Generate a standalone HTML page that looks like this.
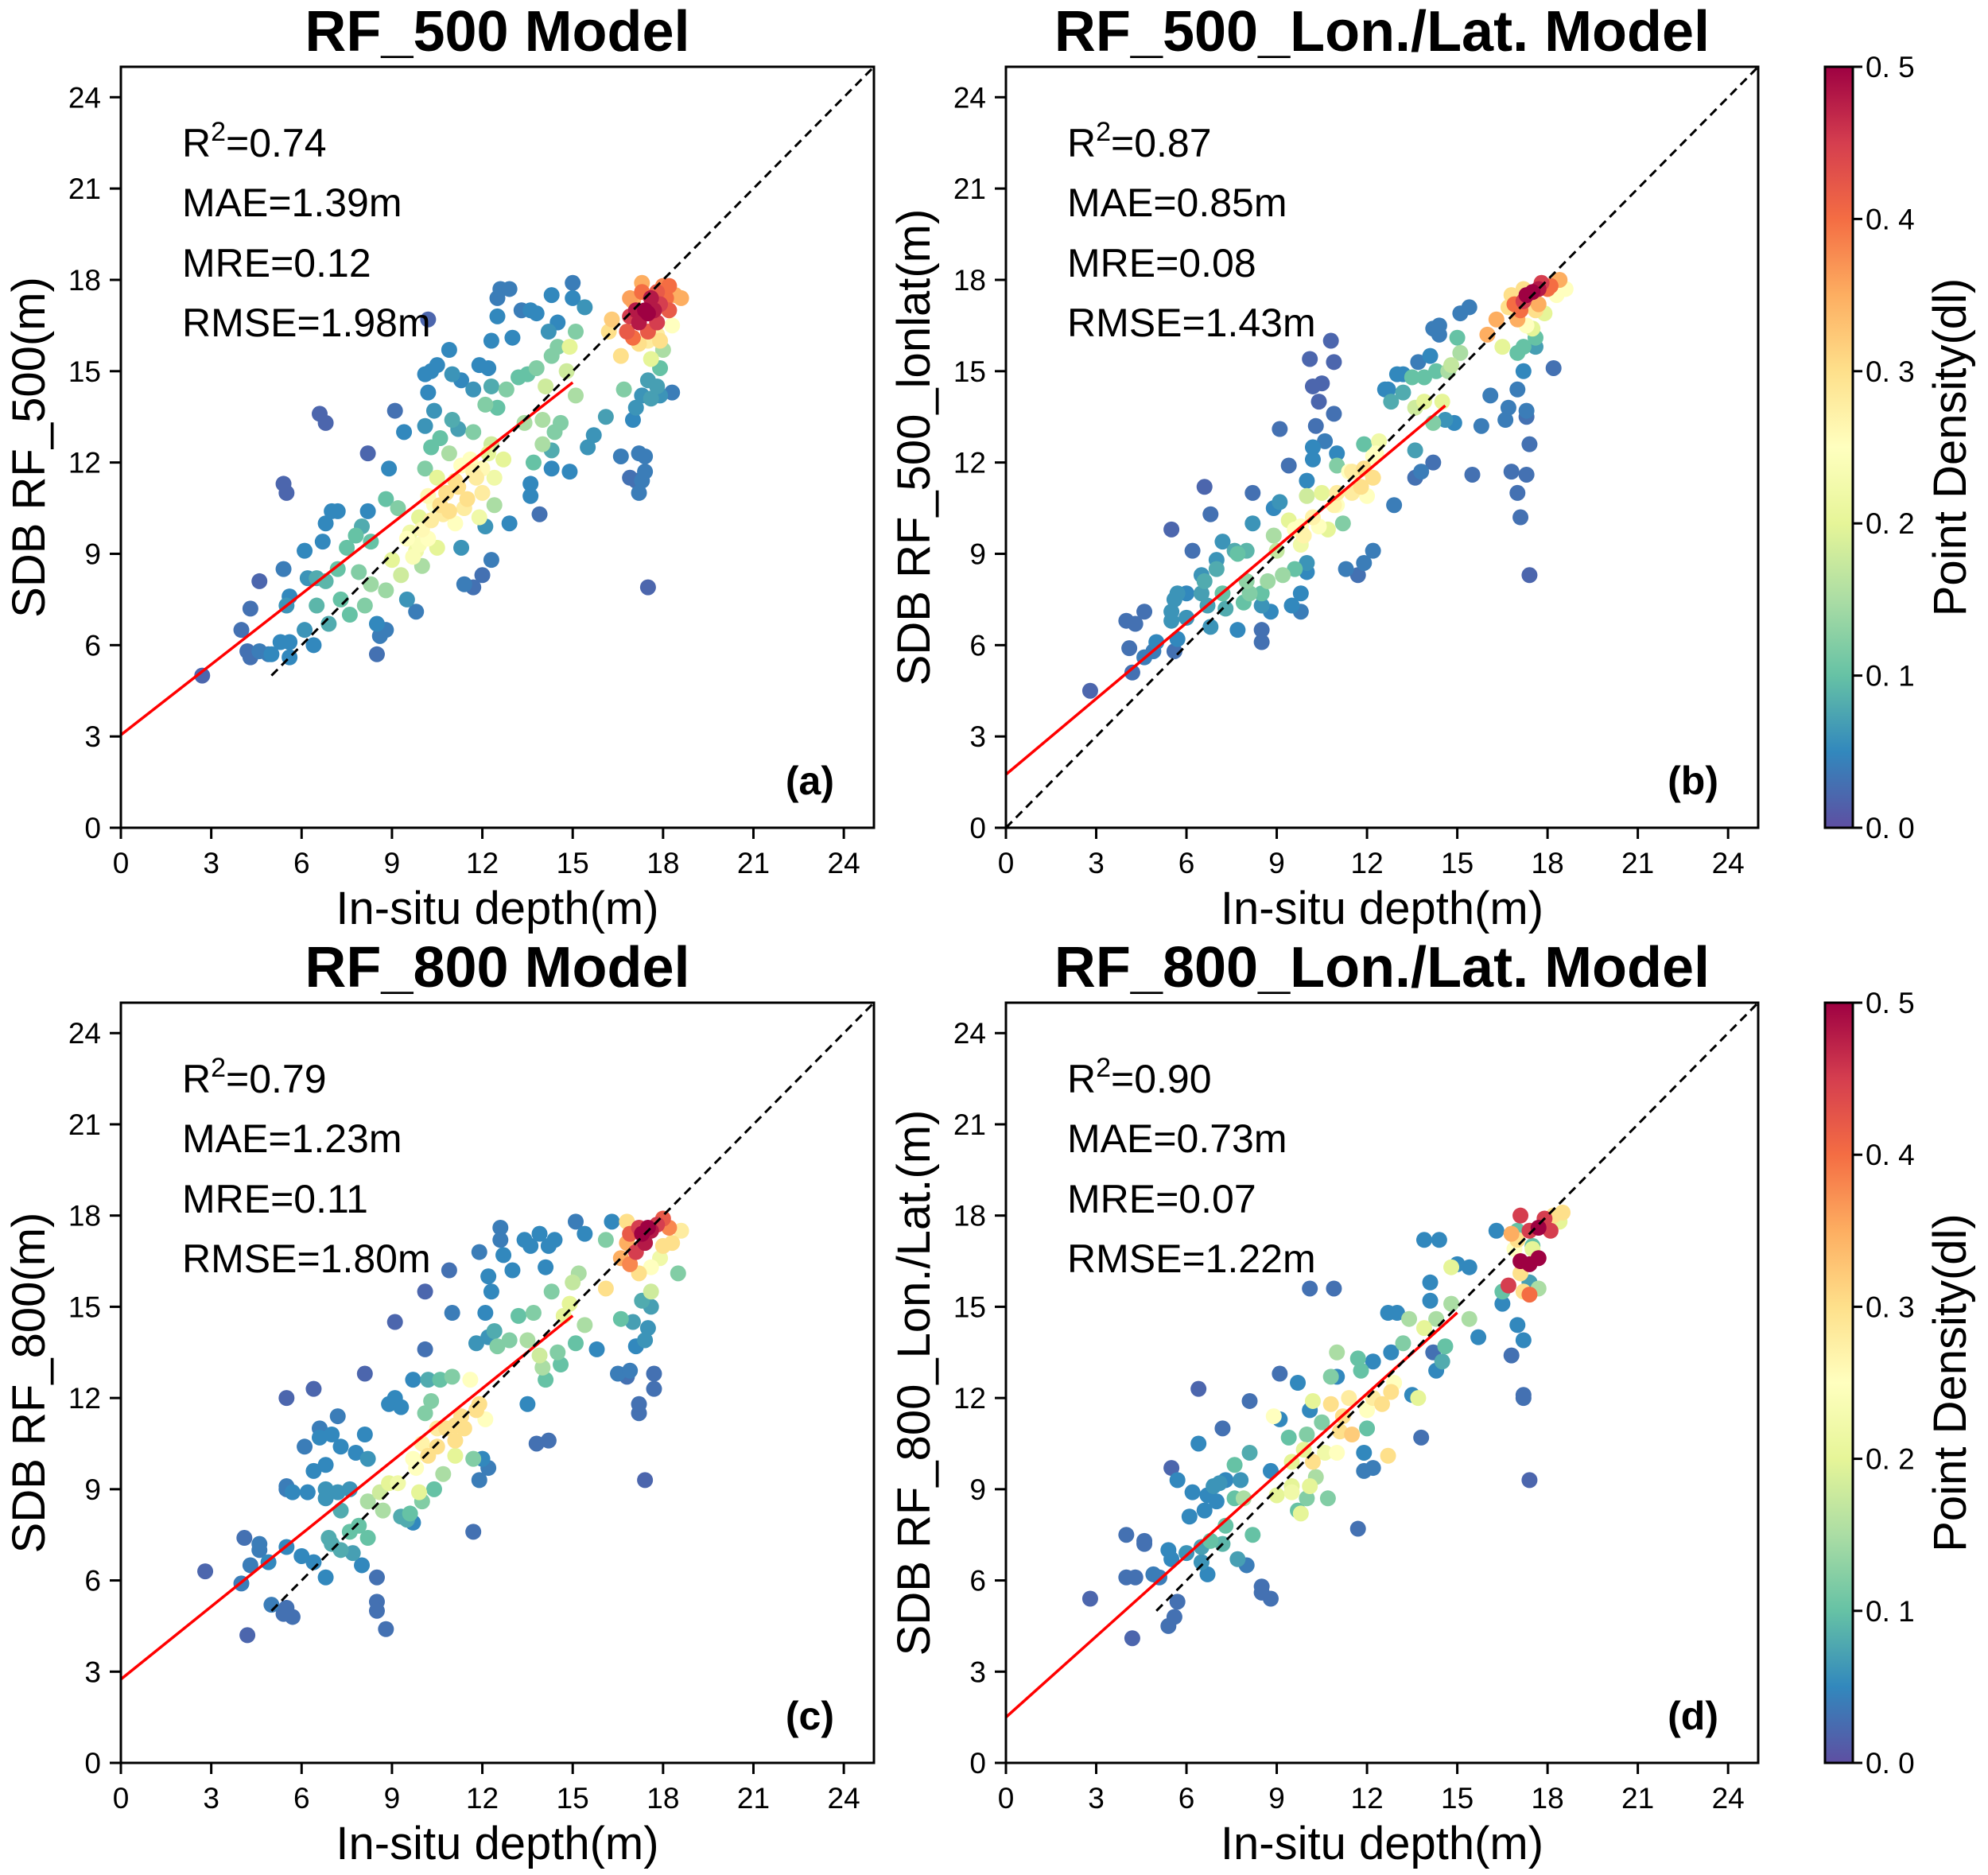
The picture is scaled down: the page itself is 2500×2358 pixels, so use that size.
<!DOCTYPE html>
<html><head><meta charset="utf-8">
<style>
html,body{margin:0;padding:0;background:#fff;}
svg{display:block;font-family:"Liberation Sans",sans-serif;}
</style></head>
<body>
<svg id="fig" width="2500" height="2358" viewBox="0 0 2500 2358" xmlns="http://www.w3.org/2000/svg">
<defs>
<linearGradient id="spec" x1="0" y1="1" x2="0" y2="0">
<stop offset="0" stop-color="#5e4fa2"/><stop offset="0.1" stop-color="#3288bd"/><stop offset="0.2" stop-color="#66c2a5"/><stop offset="0.3" stop-color="#abdda4"/><stop offset="0.4" stop-color="#e6f598"/><stop offset="0.5" stop-color="#ffffbf"/><stop offset="0.6" stop-color="#fee08b"/><stop offset="0.7" stop-color="#fdae61"/><stop offset="0.8" stop-color="#f46d43"/><stop offset="0.9" stop-color="#d53e4f"/><stop offset="1" stop-color="#9e0142"/>
</linearGradient>
</defs>
</svg>
<script>
const ticks=[0,3,6,9,12,15,18,21,24];
const cbTicks=[0.0,0.1,0.2,0.3,0.4,0.5];
const cbTickLabels=["0. 0","0. 1","0. 2","0. 3","0. 4","0. 5"];
const titles=["RF_500 Model","RF_500_Lon./Lat. Model","RF_800 Model","RF_800_Lon./Lat. Model"];
const yLabels=["SDB RF_500(m)","SDB RF_500_lonlat(m)","SDB RF_800(m)","SDB RF_800_Lon./Lat.(m)"];
const panelTags=["(a)","(b)","(c)","(d)"];
const r2Vals=["0.74","0.87","0.79","0.90"];
const maeVals=["1.39m","0.85m","1.23m","0.73m"];
const mreVals=["0.12","0.08","0.11","0.07"];
const rmseVals=["1.98m","1.43m","1.80m","1.22m"];
const fitIntercept=[3.05,1.75,2.75,1.5];
const fitSlope=[0.772,0.83,0.797,0.887];
const fitEnd=[15,14.6,15,15];
const diagStart=[5,0,5,5];

const pointsA=[[2.7,5.0,0.02],[4.0,6.5,0.03],[4.2,5.8,0.03],[4.3,5.6,0.03],[4.3,7.2,0.03],[4.6,8.1,0.02],[4.6,5.8,0.04],[4.9,5.7,0.04],[5.0,5.7,0.05],[5.4,8.5,0.04],[5.4,11.3,0.02],[5.5,11.0,0.02],[5.5,7.3,0.06],[5.6,7.6,0.05],[5.3,6.1,0.05],[5.6,6.1,0.05],[5.6,5.6,0.05],[6.1,6.5,0.06],[6.1,9.1,0.05],[6.2,8.2,0.06],[6.4,6.0,0.05],[6.5,8.2,0.08],[6.5,7.3,0.09],[6.6,13.6,0.02],[6.7,9.4,0.05],[6.8,13.3,0.02],[6.8,10.0,0.05],[6.8,8.1,0.09],[6.9,6.7,0.08],[7.0,10.4,0.05],[7.2,10.4,0.05],[7.2,8.5,0.1],[7.3,7.5,0.1],[7.5,9.2,0.1],[7.6,7.0,0.1],[7.8,9.6,0.1],[7.9,8.4,0.12],[8.0,9.9,0.08],[8.1,7.3,0.12],[8.2,12.3,0.02],[8.2,10.4,0.05],[8.3,9.4,0.1],[8.3,8.0,0.14],[8.5,6.7,0.05],[8.5,5.7,0.03],[8.6,6.3,0.04],[8.8,6.5,0.04],[8.8,7.8,0.14],[8.8,10.8,0.1],[8.9,11.8,0.05],[9.0,8.8,0.2],[9.1,13.7,0.03],[9.2,10.5,0.12],[9.3,8.3,0.18],[9.4,13.0,0.05],[9.5,7.5,0.06],[9.6,9.7,0.22],[9.8,7.1,0.04],[9.8,9.1,0.22],[9.9,10.2,0.2],[10.0,8.6,0.15],[10.1,13.2,0.06],[10.1,11.8,0.12],[10.1,14.9,0.05],[10.2,14.3,0.05],[10.2,16.7,0.02],[10.2,9.5,0.25],[10.3,15.0,0.05],[10.3,12.5,0.1],[10.4,10.6,0.25],[10.4,13.7,0.06],[10.5,15.2,0.05],[10.5,11.5,0.2],[10.5,9.2,0.2],[10.6,12.8,0.1],[10.7,10.3,0.28],[10.8,11.0,0.3],[10.9,15.7,0.05],[10.9,12.3,0.15],[11.0,13.4,0.08],[11.0,14.9,0.06],[11.1,10.0,0.25],[11.1,11.4,0.3],[11.2,13.1,0.07],[11.3,14.7,0.05],[11.3,9.2,0.06],[11.3,11.9,0.25],[11.4,8.0,0.04],[11.5,10.8,0.3],[11.6,12.1,0.25],[11.7,14.4,0.06],[11.7,13.0,0.12],[11.7,7.9,0.03],[11.8,11.5,0.28],[11.9,15.2,0.05],[11.9,10.2,0.22],[12.0,8.3,0.03],[12.0,11.0,0.28],[12.1,13.9,0.12],[12.1,9.9,0.06],[12.2,12.3,0.2],[12.2,15.1,0.05],[12.3,14.5,0.08],[12.3,8.8,0.04],[12.3,16.0,0.05],[12.3,12.6,0.18],[12.4,11.5,0.22],[12.4,10.6,0.15],[12.5,17.4,0.04],[12.5,16.8,0.05],[12.5,13.8,0.1],[12.6,17.7,0.04],[12.7,12.1,0.2],[12.8,14.4,0.12],[12.9,17.7,0.04],[12.9,10.0,0.05],[13.0,16.1,0.05],[13.2,14.8,0.1],[13.3,17.0,0.04],[13.4,13.3,0.15],[13.5,14.9,0.1],[13.6,17.0,0.05],[13.6,11.3,0.05],[13.6,10.9,0.05],[13.7,12.0,0.1],[13.8,16.9,0.05],[13.8,15.1,0.12],[13.9,10.3,0.03],[14.0,13.4,0.15],[14.0,12.6,0.15],[14.1,14.5,0.18],[14.2,16.3,0.06],[14.3,17.5,0.05],[14.3,15.5,0.12],[14.3,12.4,0.08],[14.3,11.8,0.05],[14.4,13.0,0.12],[14.5,16.6,0.05],[14.5,15.8,0.12],[14.6,13.3,0.12],[14.8,15.0,0.18],[14.9,15.8,0.2],[14.9,11.7,0.05],[15.0,17.4,0.05],[15.0,17.9,0.04],[15.1,14.2,0.15],[15.1,16.3,0.12],[15.4,17.1,0.06],[15.5,12.5,0.06],[15.7,12.9,0.06],[16.1,13.5,0.07],[16.2,16.3,0.3],[16.3,16.7,0.32],[16.6,15.5,0.3],[16.6,12.2,0.04],[16.7,14.4,0.12],[16.9,11.5,0.03],[17.0,13.4,0.05],[17.1,11.4,0.03],[17.1,13.8,0.06],[17.2,12.3,0.04],[17.2,11.0,0.04],[17.3,11.4,0.04],[17.3,14.2,0.06],[17.4,11.7,0.04],[17.4,12.2,0.04],[17.5,7.9,0.02],[17.5,14.7,0.07],[17.6,15.4,0.2],[17.6,14.1,0.07],[17.8,14.5,0.07],[17.9,14.2,0.06],[17.9,15.1,0.1],[18.0,15.7,0.15],[18.3,14.3,0.04],[18.3,16.5,0.25],[16.8,16.3,0.42],[16.9,16.8,0.45],[17.0,17.3,0.35],[17.0,16.1,0.4],[17.1,17.0,0.48],[17.2,16.6,0.48],[17.3,17.6,0.4],[17.4,17.0,0.5],[17.5,16.9,0.5],[17.5,16.3,0.42],[17.6,17.4,0.48],[17.7,17.0,0.48],[17.8,17.6,0.42],[17.8,16.6,0.45],[17.9,17.2,0.45],[18.0,17.8,0.38],[18.1,17.4,0.4],[18.2,17.0,0.42],[18.2,17.8,0.4],[18.4,17.5,0.35],[18.6,17.4,0.35],[17.2,15.9,0.3],[17.5,16.0,0.28],[17.8,16.2,0.28],[16.9,17.4,0.36],[17.3,17.9,0.35],[17.9,16.0,0.3],[9.5,9.5,0.25],[9.7,8.9,0.24],[10.0,9.8,0.26],[10.3,10.1,0.28],[10.6,10.6,0.3],[10.9,10.4,0.3],[11.2,11.2,0.3],[11.4,10.5,0.28],[11.7,11.7,0.27],[12.0,11.8,0.26],[10.2,10.9,0.26],[9.9,9.3,0.24]];

const pointsB=[[2.8,4.5,0.02],[4.0,6.8,0.03],[4.3,6.7,0.03],[4.6,7.1,0.03],[4.1,5.9,0.03],[4.2,5.1,0.03],[4.6,5.6,0.04],[4.9,5.8,0.04],[5.0,6.1,0.05],[5.5,9.8,0.02],[5.6,5.8,0.03],[5.7,6.2,0.05],[5.5,6.8,0.06],[5.5,7.1,0.06],[5.6,7.5,0.06],[5.7,7.7,0.06],[6.0,6.9,0.06],[6.0,7.7,0.05],[6.2,9.1,0.03],[6.5,8.3,0.06],[6.6,11.2,0.02],[6.5,7.7,0.07],[6.6,8.1,0.08],[6.7,7.3,0.07],[6.8,10.3,0.03],[6.8,6.6,0.06],[7.0,8.8,0.06],[7.0,8.5,0.08],[7.2,7.7,0.1],[7.2,9.4,0.06],[7.3,7.2,0.08],[7.6,9.1,0.08],[7.7,9.0,0.1],[7.7,6.5,0.05],[7.9,7.4,0.1],[8.0,9.1,0.09],[8.0,8.1,0.13],[8.1,7.7,0.12],[8.2,11.0,0.03],[8.2,10.0,0.06],[8.5,7.3,0.06],[8.5,7.7,0.1],[8.5,6.5,0.03],[8.5,6.1,0.03],[8.7,8.1,0.14],[8.8,7.1,0.05],[8.9,9.6,0.15],[8.9,10.5,0.05],[9.1,10.7,0.06],[9.1,13.1,0.03],[9.0,9.1,0.17],[9.2,8.3,0.14],[9.4,11.9,0.03],[9.5,7.3,0.05],[9.6,8.5,0.1],[9.8,9.3,0.22],[9.8,7.1,0.04],[9.8,7.7,0.05],[9.8,9.9,0.25],[10.0,8.4,0.05],[10.0,8.7,0.06],[10.0,11.4,0.05],[10.0,10.9,0.18],[10.1,15.4,0.02],[10.2,12.5,0.05],[10.2,12.1,0.05],[10.2,14.5,0.02],[10.3,13.2,0.03],[10.4,14.0,0.02],[10.5,11.0,0.2],[10.4,9.9,0.25],[10.5,14.6,0.02],[10.6,12.7,0.04],[10.7,9.8,0.2],[10.8,16.0,0.02],[10.9,15.3,0.02],[10.9,13.6,0.03],[11.0,11.9,0.12],[11.0,12.3,0.05],[11.0,10.6,0.25],[11.2,10.0,0.12],[11.3,8.5,0.04],[11.4,11.7,0.25],[11.5,11.0,0.28],[11.7,8.3,0.03],[11.8,11.2,0.3],[11.9,12.6,0.1],[11.9,8.7,0.04],[11.9,11.8,0.3],[12.0,10.9,0.25],[12.2,11.5,0.3],[12.2,9.1,0.04],[12.3,12.3,0.25],[12.4,12.7,0.22],[12.6,14.4,0.05],[12.7,14.4,0.05],[12.8,14.0,0.08],[12.9,10.6,0.04],[13.0,14.9,0.05],[13.2,14.9,0.05],[13.2,14.3,0.08],[13.5,14.8,0.1],[13.6,13.8,0.18],[13.6,11.5,0.03],[13.6,12.4,0.07],[13.7,15.3,0.04],[13.8,11.7,0.04],[13.9,14.8,0.1],[13.9,14.0,0.2],[14.1,15.5,0.05],[14.2,16.4,0.04],[14.2,12.0,0.03],[14.3,15.0,0.1],[14.2,13.3,0.12],[14.4,16.2,0.04],[14.4,16.5,0.04],[14.5,14.0,0.2],[14.6,13.4,0.06],[14.7,15.0,0.15],[14.8,15.2,0.17],[14.9,13.3,0.05],[15.0,16.1,0.1],[15.1,15.6,0.15],[15.1,16.9,0.04],[15.4,17.1,0.04],[15.5,11.6,0.03],[15.8,13.2,0.04],[16.0,16.2,0.35],[16.1,14.2,0.04],[16.3,16.7,0.35],[16.5,15.8,0.2],[16.6,13.4,0.04],[16.7,13.8,0.04],[16.8,11.7,0.03],[17.0,11.0,0.03],[17.0,14.4,0.04],[17.0,15.6,0.1],[17.1,10.2,0.03],[17.2,15.0,0.05],[17.2,15.8,0.1],[17.3,13.7,0.04],[17.3,11.6,0.03],[17.3,13.5,0.03],[17.4,12.6,0.03],[17.4,8.3,0.02],[17.6,15.8,0.07],[17.6,16.1,0.1],[18.2,15.1,0.03],[17.9,16.9,0.2],[17.3,16.5,0.25],[17.5,16.4,0.2],[16.8,17.5,0.3],[16.9,17.2,0.4],[17.1,17.0,0.4],[17.2,17.3,0.45],[17.3,17.5,0.5],[17.5,17.6,0.5],[17.7,17.7,0.48],[17.8,17.9,0.45],[18.0,17.7,0.4],[18.1,17.8,0.4],[18.4,18.0,0.35],[18.6,17.7,0.25],[18.3,17.5,0.25],[17.2,17.7,0.3],[17.0,16.7,0.35],[16.7,17.1,0.3],[17.6,17.0,0.3],[17.7,17.2,0.35],[9.6,9.8,0.25],[9.9,9.6,0.27],[10.2,10.2,0.27],[11.0,11.0,0.28],[11.5,11.7,0.28],[12.2,12.2,0.25],[10.9,10.6,0.27],[9.4,10.1,0.2]];

const pointsC=[[2.8,6.3,0.02],[4.1,7.4,0.03],[4.3,6.5,0.04],[4.2,4.2,0.02],[4.0,5.9,0.04],[4.6,7.2,0.04],[4.6,7.0,0.04],[4.9,6.6,0.05],[5.0,5.2,0.04],[5.5,12.0,0.02],[5.5,7.1,0.05],[5.5,5.1,0.03],[5.4,4.9,0.03],[5.7,4.8,0.03],[5.5,9.1,0.04],[5.5,9.0,0.04],[5.7,8.9,0.05],[6.0,6.8,0.05],[6.1,10.4,0.04],[6.2,8.9,0.05],[6.4,9.6,0.05],[6.4,6.6,0.05],[6.4,12.3,0.02],[6.6,11.0,0.04],[6.6,10.7,0.05],[6.8,9.0,0.06],[6.8,8.7,0.06],[6.8,6.1,0.05],[6.8,9.8,0.05],[6.9,7.4,0.08],[7.0,10.8,0.05],[7.0,7.2,0.08],[7.2,11.4,0.04],[7.2,8.9,0.06],[7.3,7.0,0.08],[7.3,10.4,0.05],[7.3,8.3,0.08],[7.6,7.6,0.1],[7.6,9.0,0.06],[7.7,6.9,0.07],[7.8,10.2,0.05],[7.9,7.8,0.1],[8.0,6.5,0.05],[8.1,10.8,0.05],[8.1,12.8,0.02],[8.2,10.0,0.06],[8.2,7.4,0.1],[8.2,8.6,0.15],[8.5,6.1,0.03],[8.5,5.3,0.03],[8.5,5.0,0.03],[8.6,8.9,0.18],[8.7,8.3,0.15],[8.8,4.4,0.03],[8.9,11.8,0.05],[8.9,9.2,0.2],[9.1,12.0,0.05],[9.1,14.5,0.02],[9.2,9.2,0.22],[9.3,8.1,0.08],[9.3,11.7,0.05],[9.5,8.0,0.08],[9.6,8.2,0.1],[9.7,12.6,0.05],[9.7,7.9,0.05],[9.8,9.7,0.25],[9.9,8.9,0.2],[10.0,8.6,0.12],[10.1,11.5,0.12],[10.1,15.5,0.02],[10.1,13.6,0.03],[10.2,12.6,0.08],[10.2,10.1,0.3],[10.3,11.9,0.12],[10.4,9.0,0.1],[10.5,10.4,0.3],[10.6,12.6,0.1],[10.7,9.5,0.15],[10.8,11.0,0.3],[10.9,16.2,0.03],[11.0,12.7,0.12],[11.0,14.8,0.04],[11.1,10.1,0.2],[11.3,11.4,0.3],[11.4,11.0,0.3],[11.6,12.6,0.25],[11.7,10.0,0.12],[11.7,7.6,0.03],[11.8,13.8,0.06],[11.9,9.3,0.04],[11.9,16.8,0.04],[11.9,11.8,0.3],[12.0,10.0,0.05],[12.1,11.3,0.25],[12.1,14.8,0.05],[12.2,16.0,0.05],[12.2,9.7,0.04],[12.2,14.0,0.06],[12.3,15.5,0.05],[12.4,14.2,0.08],[12.5,13.7,0.12],[12.6,17.6,0.04],[12.6,17.2,0.04],[12.7,16.7,0.05],[12.9,13.9,0.12],[13.0,16.2,0.05],[13.2,14.7,0.1],[13.4,17.2,0.05],[13.5,11.8,0.05],[13.5,13.9,0.15],[13.6,17.0,0.05],[13.7,14.8,0.12],[13.8,10.5,0.03],[13.9,17.4,0.05],[13.9,13.4,0.18],[14.0,13.0,0.15],[14.1,12.6,0.1],[14.1,16.3,0.05],[14.2,10.6,0.03],[14.2,17.0,0.05],[14.3,15.5,0.12],[14.4,17.2,0.05],[14.5,13.5,0.12],[14.6,13.1,0.1],[14.7,14.7,0.2],[14.9,15.1,0.2],[15.0,15.8,0.17],[15.1,17.8,0.04],[15.1,13.8,0.1],[15.2,16.1,0.15],[15.4,17.4,0.05],[15.4,14.4,0.15],[15.8,13.6,0.05],[16.1,17.2,0.12],[16.1,15.6,0.3],[16.3,17.8,0.05],[16.5,12.8,0.04],[16.6,14.6,0.1],[16.8,12.7,0.03],[16.9,12.9,0.04],[17.0,14.5,0.07],[17.1,13.7,0.05],[17.2,11.5,0.03],[17.2,11.8,0.03],[17.3,15.2,0.08],[17.4,9.3,0.02],[17.4,13.9,0.06],[17.5,14.3,0.06],[17.6,15.5,0.18],[17.6,15.0,0.07],[17.7,12.8,0.03],[17.7,12.3,0.03],[18.5,16.1,0.12],[16.8,17.1,0.35],[16.9,17.4,0.42],[17.2,17.6,0.45],[17.3,17.4,0.5],[17.5,17.6,0.5],[17.6,17.5,0.48],[17.8,17.7,0.45],[18.0,17.9,0.42],[18.2,17.6,0.38],[18.3,17.1,0.3],[18.6,17.5,0.28],[17.4,17.1,0.48],[17.1,16.8,0.45],[16.9,16.4,0.38],[17.2,16.1,0.3],[17.6,16.3,0.25],[17.9,16.6,0.22],[18.0,17.0,0.3],[16.6,16.6,0.35],[16.8,17.8,0.3],[10.5,11.0,0.28],[11.1,11.1,0.3],[11.8,11.6,0.3],[11.1,10.6,0.3],[10.0,10.5,0.27],[9.7,10.0,0.25]];

const pointsD=[[2.8,5.4,0.02],[4.0,7.5,0.03],[4.6,7.3,0.03],[4.6,7.2,0.03],[4.0,6.1,0.03],[4.3,6.1,0.03],[4.2,4.1,0.02],[4.9,6.2,0.04],[5.1,6.1,0.04],[5.5,9.7,0.02],[5.4,7.0,0.05],[5.5,6.7,0.05],[5.4,4.5,0.03],[5.6,4.8,0.03],[5.7,5.3,0.03],[5.7,9.3,0.05],[6.0,6.9,0.06],[6.1,8.1,0.05],[6.2,8.9,0.05],[6.4,12.3,0.02],[6.4,10.5,0.05],[6.5,7.1,0.07],[6.5,6.6,0.06],[6.6,8.3,0.05],[6.7,8.8,0.05],[6.7,6.2,0.05],[6.8,7.3,0.1],[6.9,9.1,0.06],[7.0,8.6,0.05],[7.1,9.2,0.06],[7.2,11.0,0.03],[7.2,7.2,0.09],[7.3,7.8,0.1],[7.3,9.3,0.05],[7.6,9.8,0.1],[7.6,8.7,0.1],[7.7,6.7,0.07],[7.8,9.3,0.06],[7.9,8.7,0.15],[8.0,6.5,0.04],[8.1,11.9,0.03],[8.1,10.2,0.08],[8.2,7.5,0.1],[8.5,5.8,0.03],[8.5,5.6,0.03],[8.8,5.4,0.03],[8.8,9.6,0.05],[8.9,11.4,0.25],[9.1,11.3,0.05],[9.1,12.8,0.03],[9.0,8.8,0.2],[9.4,10.7,0.1],[9.5,9.9,0.2],[9.5,8.9,0.22],[9.7,8.3,0.1],[9.7,12.5,0.05],[9.8,8.2,0.2],[10.0,8.7,0.12],[10.0,10.8,0.12],[10.1,11.6,0.05],[10.1,15.6,0.03],[10.2,11.9,0.2],[10.3,9.4,0.15],[10.5,11.2,0.12],[10.6,10.2,0.22],[10.7,8.7,0.12],[10.8,12.7,0.12],[10.9,15.6,0.03],[11.0,13.5,0.15],[11.0,10.2,0.25],[11.0,12.7,0.05],[11.1,10.9,0.3],[11.7,13.3,0.1],[11.7,7.7,0.03],[11.8,12.9,0.1],[11.9,9.6,0.04],[11.9,10.2,0.05],[12.0,11.0,0.1],[12.2,13.2,0.05],[12.2,9.7,0.04],[12.2,12.0,0.28],[12.5,11.8,0.3],[12.7,14.8,0.05],[12.7,10.1,0.3],[12.8,12.2,0.3],[12.8,13.5,0.05],[13.0,14.8,0.05],[13.2,13.8,0.12],[13.4,14.6,0.15],[13.5,12.1,0.05],[13.7,12.0,0.2],[13.8,10.7,0.03],[13.9,14.3,0.2],[13.9,17.2,0.05],[14.1,15.2,0.05],[14.1,15.8,0.05],[14.2,13.5,0.03],[14.3,12.9,0.05],[14.3,14.6,0.15],[14.4,17.2,0.05],[14.5,13.2,0.08],[14.6,13.7,0.1],[14.8,15.1,0.15],[14.8,16.3,0.2],[15.0,16.4,0.05],[15.4,16.3,0.05],[15.4,14.6,0.15],[15.7,14.0,0.05],[16.3,17.5,0.05],[16.5,15.1,0.05],[16.5,15.5,0.1],[17.0,14.4,0.05],[16.8,13.4,0.03],[17.2,12.1,0.03],[17.2,12.0,0.03],[17.2,13.9,0.05],[17.4,9.3,0.02],[17.4,15.8,0.07],[17.7,15.6,0.15],[17.2,15.5,0.3],[17.4,15.4,0.4],[17.1,18.0,0.45],[17.4,17.5,0.45],[17.0,17.2,0.3],[17.7,17.6,0.5],[17.9,17.9,0.45],[18.1,17.5,0.45],[18.2,18.0,0.3],[18.5,18.1,0.3],[18.4,17.8,0.2],[16.7,15.7,0.45],[17.1,16.5,0.5],[17.4,16.4,0.5],[17.7,16.6,0.5],[17.5,16.9,0.2],[16.9,16.9,0.25],[17.1,16.1,0.3],[17.4,15.8,0.07],[17.5,17.0,0.1],[17.0,17.5,0.1],[16.8,17.4,0.35],[10.8,11.8,0.3],[11.2,11.4,0.3],[11.5,10.8,0.32],[10.2,9.9,0.3],[9.9,10.3,0.2],[11.4,12.0,0.28],[12.0,11.6,0.25],[12.9,12.5,0.25],[10.1,9.1,0.2],[9.5,9.1,0.2]];
const allPoints=[pointsA,pointsB,pointsC,pointsD];

const NS="http://www.w3.org/2000/svg";
const svg=document.getElementById('fig');
function mk(tag,attrs,parent){const e=document.createElementNS(NS,tag);for(const k in attrs)e.setAttribute(k,attrs[k]);(parent||svg).appendChild(e);return e;}
const cmap=[[94,79,162],[50,136,189],[102,194,165],[171,221,164],[230,245,152],[255,255,191],[254,224,139],[253,174,97],[244,109,67],[213,62,79],[158,1,66]];
function color(d){let t=Math.max(0,Math.min(1,d/0.5))*10;let i=Math.min(9,Math.floor(t));let f=t-i;const a=cmap[i],b=cmap[i+1];return 'rgb('+a.map((v,k)=>Math.round(v+(b[k]-v)*f)).join(',')+')';}

const panels=[{x0:152,x1:1099,y0:84,y1:1041},{x0:1265,x1:2211,y0:84,y1:1041},{x0:152,x1:1099,y0:1261,y1:2217},{x0:1265,x1:2211,y0:1261,y1:2217}];

panels.forEach((p,i)=>{
  const sx=v=>p.x0+(p.x1-p.x0)*v/25;
  const sy=v=>p.y1-(p.y1-p.y0)*v/25;
  const g=mk('g',{});
  
  
  const cp=mk('clipPath',{id:'clip'+i},g);
  mk('rect',{x:p.x0,y:p.y0,width:p.x1-p.x0,height:p.y1-p.y0},cp);
  const pts=allPoints[i].slice().sort((a,b)=>a[2]-b[2]);
  const pg=mk('g',{'clip-path':'url(#clip'+i+')'},g);
  
  
  pts.forEach(q=>{
    const c=mk('circle',{cx:sx(q[0]),cy:sy(q[1]),r:10,fill:color(q[2])},pg);
    
    
  });
  const fit=mk('line',{x1:sx(0),y1:sy(fitIntercept[i]),x2:sx(fitEnd[i]),y2:sy(fitIntercept[i]+fitSlope[i]*fitEnd[i]),stroke:'#f00','stroke-width':3.5},g);
  
  
  const dg=mk('line',{x1:sx(diagStart[i]),y1:sy(diagStart[i]),x2:sx(25),y2:sy(25),stroke:'#000','stroke-width':3,'stroke-dasharray':'11,7'},g);
  
  
  const fr=mk('rect',{x:p.x0,y:p.y0,width:p.x1-p.x0,height:p.y1-p.y0,fill:'none',stroke:'#000','stroke-width':3},g);
  
  
  ticks.forEach(t=>{
    mk('line',{x1:sx(t),y1:p.y1,x2:sx(t),y2:p.y1+14,stroke:'#000','stroke-width':3},g);
    const tx=mk('text',{x:sx(t),y:p.y1+57,'font-size':37,'text-anchor':'middle'},g);
    tx.textContent=t;
    
    
    mk('line',{x1:p.x0-14,y1:sy(t),x2:p.x0,y2:sy(t),stroke:'#000','stroke-width':3},g);
    const ty=mk('text',{x:p.x0-25,y:sy(t)+13,'font-size':37,'text-anchor':'end'},g);
    ty.textContent=t;
    
    
  });
  const cx=(p.x0+p.x1)/2;
  const ti=mk('text',{x:cx,y:p.y0-20,'font-size':72,'font-weight':'bold','text-anchor':'middle'},g);
  ti.textContent=titles[i];
  
  
  const xl=mk('text',{x:cx,y:p.y1+121,'font-size':58,'text-anchor':'middle'},g);
  xl.textContent='In-situ depth(m)';
  
  
  const yx=p.x0-96,yc=(p.y0+p.y1)/2;
  const yl=mk('text',{x:yx,y:yc,'font-size':58,'text-anchor':'middle',transform:'rotate(-90 '+yx+' '+yc+')'},g);
  yl.textContent=yLabels[i];
  
  
  const ax=p.x0+77;
  const t1=mk('text',{x:ax,y:p.y0+113,'font-size':50},g);
  t1.innerHTML='R<tspan dy="-20" font-size="34">2</tspan><tspan dy="20">='+r2Vals[i]+'</tspan>';
  
  
  const lines=[['MAE='+maeVals[i],188,'mae-annotation'],['MRE='+mreVals[i],264,'mre-annotation'],['RMSE='+rmseVals[i],339,'rmse-annotation']];
  lines.forEach(l=>{
    const t=mk('text',{x:ax,y:p.y0+l[1],'font-size':50},g);
    t.textContent=l[0];
    
    
  });
  const tg=mk('text',{x:p.x1-50,y:p.y1-42,'font-size':50,'font-weight':'bold','text-anchor':'end'},g);
  tg.textContent=panelTags[i];
  
  
});

[panels[1],panels[3]].forEach((p,k)=>{
  const g=mk('g',{});
  
  
  const cx0=2295,cx1=2330;
  mk('rect',{x:cx0,y:p.y0,width:cx1-cx0,height:p.y1-p.y0,fill:'url(#spec)',stroke:'#000','stroke-width':3},g);
  cbTicks.forEach((t,j)=>{
    const y=p.y1-(p.y1-p.y0)*t/0.5;
    mk('line',{x1:cx1,y1:y,x2:cx1+12,y2:y,stroke:'#000','stroke-width':3},g);
    const tx=mk('text',{x:cx1+16,y:y+13,'font-size':37},g);
    tx.textContent=cbTickLabels[j];
    
    
  });
  const lx=2472,ly=(p.y0+p.y1)/2;
  const lb=mk('text',{x:lx,y:ly,'font-size':58,'text-anchor':'middle',transform:'rotate(-90 '+lx+' '+ly+')'},g);
  lb.textContent='Point Density(dl)';
  
  
});
</script>
</body></html>
